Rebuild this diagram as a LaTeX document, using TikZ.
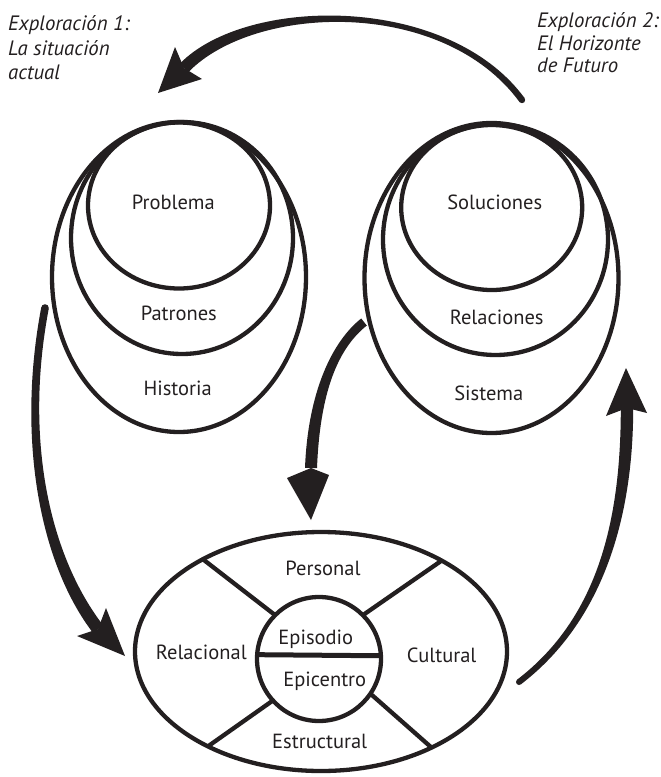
\documentclass[tikz,border=0pt]{standalone}
\usepackage{fontspec}
\setmainfont{PT Sans}
\usetikzlibrary{shapes.geometric,calc}
\definecolor{ink}{RGB}{35,31,32}

% Tapered shaft along the Bezier #1-0 .. #1-1 .. #1-2 .. #1-3,
% half width #2 at the tail and #3 at the head end.
\newcommand\taper[3]{%
  \path ($(#1-0)!#2!90:(#1-1)$) coordinate (#1-ta)
        ($(#1-0)!#2!-90:(#1-1)$) coordinate (#1-tb)
        ($(#1-3)!#3!-90:(#1-2)$) coordinate (#1-ha)
        ($(#1-3)!#3!90:(#1-2)$) coordinate (#1-hb);
  \fill[ink] (#1-ta) .. controls ($(#1-1)+(#1-ta)-(#1-0)$) and ($(#1-2)+(#1-ha)-(#1-3)$) .. (#1-ha)
     -- (#1-hb) .. controls ($(#1-2)+(#1-hb)-(#1-3)$) and ($(#1-1)+(#1-tb)-(#1-0)$) .. (#1-tb) -- cycle;
}
% Swept-back head: tip, two barbs, notch at the shaft end
\newcommand\head[1]{%
  \fill[ink] (#1-tip) -- (#1-ba) -- (#1-3) -- (#1-bb) -- cycle;
}

\tikzset{
  ring/.style={draw=ink, line width=4.3pt, ellipse, inner sep=0pt, outer sep=0pt},
  divider/.style={draw=ink, line width=4.3pt},
  lbl/.style={text=ink, font=\fontsize{20.5}{24}\selectfont, anchor=base, inner sep=0pt},
  note/.style={text=ink, font=\itshape\fontsize{20.8}{25}\selectfont, anchor=base west, inner sep=0pt},
}

\begin{document}
\begin{tikzpicture}[x=1pt, y=-1pt]
\useasboundingbox (0,0) rectangle (661,777);

% ---- current situation: nested rings
\node[ring, minimum width=254pt, minimum height=310pt] (historia) at (179,277) {};
\node[ring, minimum width=222pt, minimum height=232pt] (patrones) at (182,238) {};
\node[ring, minimum width=182pt, minimum height=166pt] (problema) at (179,205.5) {};
\node[lbl] (tproblema) at (173.3,209.3) {Problema};
\node[lbl] (tpatrones) at (178.8,320) {Patrones};
\node[lbl] (thistoria) at (177.7,395) {Historia};

% ---- future horizon: nested rings
\node[ring, minimum width=254pt, minimum height=310pt] (sistema) at (491.5,278) {};
\node[ring, minimum width=225pt, minimum height=231pt] (relaciones) at (495.5,239.5) {};
\node[ring, minimum width=181pt, minimum height=165pt] (soluciones) at (491.7,207.5) {};
\node[lbl] (tsoluciones) at (494.7,209.3) {Soluciones};
\node[lbl] (trelaciones) at (496.7,324) {Relaciones};
\node[lbl] (tsistema) at (488.8,400) {Sistema};

% ---- context ellipse with the split core
\node[ring, minimum width=372pt, minimum height=239pt] (ctx) at (321,651.5) {};
\node[ring, circle, minimum size=124pt] (core) at (319,659) {};
\draw[ink, line width=5pt] (core.176.3) -- (core.3.7);
\draw[divider] (ctx.142.4) -- (core.135);
\draw[divider] (ctx.37.6) -- (core.45);
\draw[divider] (ctx.220.5) -- (core.222);
\draw[divider] (ctx.319) -- (core.326);
\node[lbl] (tpersonal) at (323,575) {Personal};
\node[lbl] (trelacional) at (201.3,659) {Relacional};
\node[lbl] (tepisodio) at (315.8,644.3) {Episodio};
\node[lbl] (tepicentro) at (324.7,686.7) {Epicentro};
\node[lbl] (tcultural) at (441.7,662) {Cultural};
\node[lbl] (testructural) at (319.7,748) {Estructural};

% ---- exploration captions
\node[note] (e1a) at (8,30.7) {Exploración 1:};
\node[note] (e1b) at (8,55) {La situación};
\node[note] (e1c) at (8,79) {actual};
\node[note] (e2a) at (537,27.3) {Exploración 2:};
\node[note] (e2b) at (537,50) {El Horizonte};
\node[note] (e2c) at (537,72.7) {de Futuro};

% ---- arrows
% future horizon -> current situation (over the top)
\coordinate (t-0) at (522,100);
\coordinate (t-1) at (445,-5);
\coordinate (t-2) at (250,0);
\coordinate (t-3) at (184,68);
\coordinate (t-tip) at (158,93);
\coordinate (t-ba) at (175,47);
\coordinate (t-bb) at (202,79);
\taper{t}{3.2pt}{6pt}
\fill[ink] (t-0) circle[radius=3.2pt];
\head{t}

% current situation -> context (left side)
\coordinate (l-0) at (45,308);
\coordinate (l-1) at (20,440);
\coordinate (l-2) at (45,560);
\coordinate (l-3) at (98,629);
\coordinate (l-tip) at (125,656);
\coordinate (l-ba) at (106,608);
\coordinate (l-bb) at (77,636);
\taper{l}{3.8pt}{6.3pt}
\fill[ink] (l-0) circle[radius=3.8pt];
\head{l}

% future horizon -> context (middle)
\coordinate (m-0) at (364,322);
\coordinate (m-1) at (335,345);
\coordinate (m-2) at (314,392);
\coordinate (m-3) at (311,468);
\coordinate (m-tip) at (311,520);
\coordinate (m-ba) at (287,478);
\coordinate (m-bb) at (329,475);
\taper{m}{4.5pt}{6pt}
\head{m}

% context -> future horizon (right side)
\coordinate (r-0) at (519,682);
\coordinate (r-1) at (600,620);
\coordinate (r-2) at (627,520);
\coordinate (r-3) at (627,408);
\coordinate (r-tip) at (626,368);
\coordinate (r-ba) at (606,416);
\coordinate (r-bb) at (647,413);
\taper{r}{3pt}{6.2pt}
\fill[ink] (r-0) circle[radius=3pt];
\head{r}
\end{tikzpicture}
\end{document}
